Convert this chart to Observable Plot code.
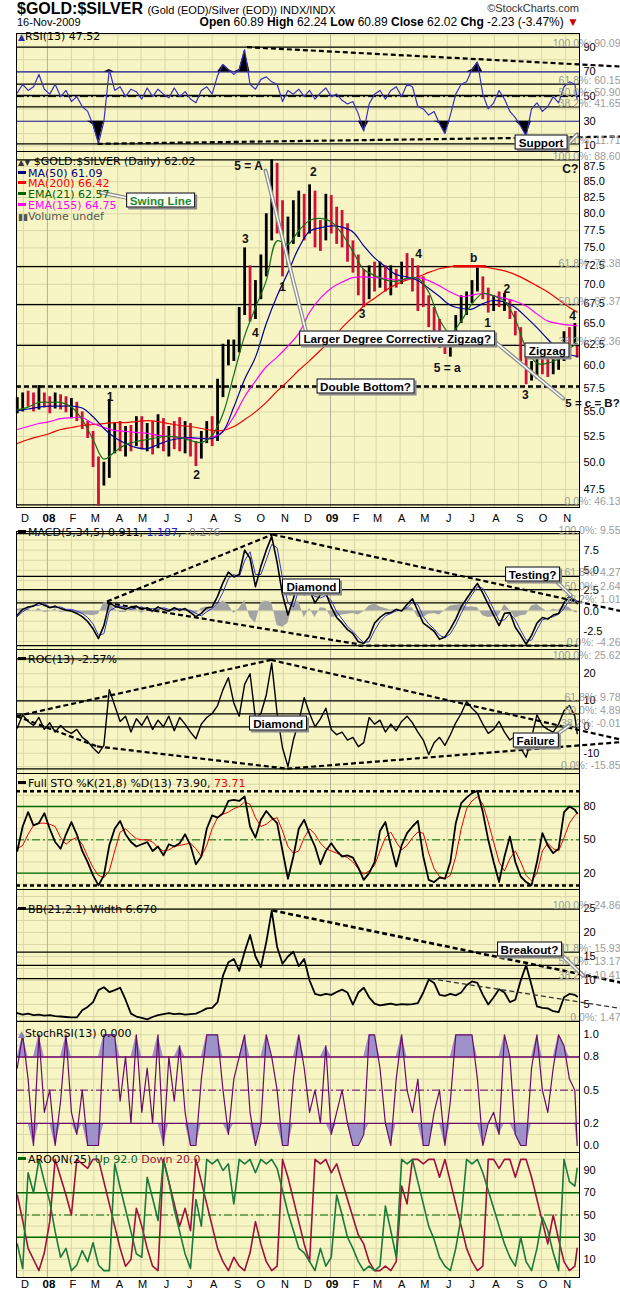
<!DOCTYPE html>
<html><head><meta charset="utf-8">
<script src="https://cdn.jsdelivr.net/npm/d3@7"></script>
<script src="https://cdn.jsdelivr.net/npm/@observablehq/plot@0.6"></script>
<style>
html,body{margin:0;padding:0;background:#fff;}
body{width:620px;height:1297px;overflow:hidden;font-family:"DejaVu Sans",sans-serif;}
#hdr{position:relative;height:33px;font-family:"Liberation Sans",Arial,sans-serif;color:#000;}
#hdr div{position:absolute;white-space:nowrap;}
.panel{position:relative;width:620px;}
.panel svg{display:block;}
.lab{position:absolute;left:18px;font:11px/10.7px "DejaVu Sans",sans-serif;white-space:nowrap;color:#000;}
.sw{display:inline-block;width:8px;height:3px;vertical-align:3px;margin-right:2px;}
.call{position:absolute;transform:translate(-50%,-50%);background:#fff;border:1px solid #000;box-shadow:2px 2px 0 #8a8a8a;font:bold 11.7px/13px "Liberation Sans",Arial,sans-serif;padding:0 3px;white-space:nowrap;color:#000;}
</style></head>
<body>
<div id="hdr">
  <div style="left:17px;top:0px"><span style="font:bold 16px 'Liberation Sans Narrow','Liberation Sans';font-stretch:condensed">$GOLD:$SILVER</span> <span style="font-size:11px">(Gold (EOD)/Silver (EOD)) INDX/INDX</span></div>
  <div style="right:41px;top:2px;font-size:11px;color:#333">©StockCharts.com</div>
  <div style="left:17px;top:16px;font-size:11px">16-Nov-2009</div>
  <div style="right:41px;top:15px;font-size:12px"><b>Open</b> 60.89 <b>High</b> 62.24 <b>Low</b> 60.89 <b>Close</b> 62.02 <b>Chg</b> -2.23 (-3.47%) <span style="color:#c00">▼</span></div>
</div>
<div id="charts"></div>
<script>
// ---------------- DATA (weekly samples) ----------------
const firstWeek = "2007-11-23";
const lastDay = "2009-11-16";
const monthLabels = ["D","08","F","M","A","M","J","J","A","S","O","N","D","09","F","M","A","M","J","J","A","S","O","N"];

const priceHigh = [56.5,57.0,57.2,57.0,57.8,57.0,56.6,57.0,56.8,56.6, 56.4,56.0,55.0,54.0,53.0,50.5,50.0,56.3,53.8,54.0, 53.5,53.6,54.5,54.5,53.8,54.0,54.7,54.3,53.5,54.0, 54.4,54.0,53.8,52.0,53.0,54.0,54.5,58.5,62.5,63.0, 63.0,67.0,75.0,72.5,70.5,74.0,80.0,88.6,88.0,82.0, 79.5,82.0,83.5,83.0,84.5,83.5,79.0,83.0,82.8,81.0, 80.5,78.5,76.0,74.0,72.0,72.5,73.0,73.0,72.5,72.5, 72.0,73.0,74.2,73.5,72.5,71.0,68.5,67.0,65.5,64.0, 63.5,66.0,68.5,69.0,70.5,72.2,71.0,69.5,68.5,69.0, 68.8,68.0,66.5,64.5,61.5,60.5,61.5,62.0,61.5,61.0, 61.5,64.0,64.5,65.0,62.24];
const priceLow = [54.8,55.0,55.5,55.0,55.2,55.4,54.8,55.3,55.2,54.9, 54.3,54.0,53.2,52.3,49.5,46.0,47.8,48.5,50.8,51.0, 50.5,51.0,51.5,51.2,51.0,50.7,51.3,51.0,50.5,51.2, 51.0,50.8,50.5,49.6,50.3,51.8,51.5,52.0,56.5,60.0, 60.5,61.5,66.0,65.2,65.5,68.0,71.0,76.0,77.0,71.0, 72.5,75.5,76.5,76.0,77.0,75.0,74.5,76.0,77.0,75.5, 75.0,73.0,71.5,68.5,67.0,68.0,69.0,69.5,69.0,68.5, 69.5,70.0,70.5,69.0,66.5,67.0,64.5,63.0,62.0,61.3, 61.0,62.5,65.0,66.0,67.5,69.0,68.0,66.3,66.5,67.0, 66.5,65.5,63.5,60.5,57.9,58.3,58.5,59.0,58.7,59.0, 59.5,60.5,61.5,62.5,60.89];
const priceClose = [55.5,56.3,56.0,55.6,56.8,55.8,55.3,56.4,55.9,55.4, 55.8,54.6,53.8,52.8,50.2,48.5,49.0,51.5,52.8,51.8, 52.2,51.5,53.8,52.0,52.5,51.2,53.5,52.0,52.8,52.5, 51.8,53.3,51.3,50.8,52.5,53.5,52.0,57.8,61.5,62.0, 62.3,66.0,72.0,67.0,68.5,72.5,78.5,84.0,80.0,74.0, 77.0,79.0,81.5,78.0,82.0,77.0,76.0,81.5,79.0,78.5, 77.5,74.0,73.0,70.0,68.5,71.5,70.0,72.0,70.0,71.5, 70.5,72.0,71.5,70.5,70.0,68.0,65.0,64.0,62.5,62.0, 63.0,65.5,67.5,68.0,70.0,71.0,69.0,67.0,68.0,67.5, 68.0,66.0,64.0,61.0,59.0,59.5,60.8,59.6,59.3,60.3, 61.0,63.5,63.0,64.2,62.02];

// moving averages, every second week
const ma50 = [55.1,55.3,55.5,55.6,55.6,55.6,55.4,54.5,53.3,52.4, 51.8,51.4,51.3,51.7,52.1,52.3,52.4,52.3,52.3,53.0, 55.5,58.5,61.0,65.0,68.5,71.6,75.0,77.4,77.9,78.2, 78.0,77.3,75.3,73.6,72.4,71.3,71.0,70.5,69.5,68.4, 67.3,66.9,66.8,67.5,67.9,67.7,67.0,65.8,64.5,63.1, 61.9,61.3,61.09];
const ma200 = [51.8,52.2,52.5,52.8,53.2,53.4,53.6,53.7,53.8,53.9, 53.9,54.0,54.1,54.0,53.8,53.6,53.5,53.3,53.1,53.1, 53.5,54.2,55.0,56.0,57.2,58.3,59.5,60.6,61.8,63.0, 64.5,65.8,67.2,68.2,69.2,70.0,70.6,71.0,71.6,72.1, 72.4,72.5,72.5,72.4,72.1,71.8,71.3,70.6,69.8,69.0, 68.0,67.0,66.42];
const ema21 = [55.2,55.5,56.0,56.0,56.0,55.5,54.2,52.2,50.3,51.0, 51.7,52.0,52.2,52.4,52.5,52.4,52.1,51.9,52.6,54.8, 59.0,63.5,67.0,70.5,76.0,75.5,77.5,79.0,79.3,78.8, 77.0,74.5,72.0,71.2,70.6,70.4,70.8,70.8,69.0,65.5, 63.8,65.3,67.5,68.8,68.5,67.8,65.5,62.0,60.3,60.3, 60.8,62.0,62.57];
const ema155 = [53.2,53.5,53.8,54.0,54.3,54.4,54.4,53.8,53.4,53.1, 53.0,52.9,52.8,52.6,52.5,52.4,52.3,52.3,52.4,53.0, 54.5,56.6,58.3,59.9,61.0,62.3,63.8,66.4,68.2,69.5, 70.3,70.9,71.0,70.9,70.8,70.6,70.7,70.9,70.5,69.8, 69.0,68.4,68.6,68.8,68.5,68.2,67.8,67.2,66.2,65.3, 65.0,64.8,64.75];

const rsi = [53,60,55,58,68,56,52,60,50,55, 46,50,42,38,27,12,30,72,55,58, 50,56,54,48,57,50,56,52,49,57, 50,54,48,45,55,58,52,67,76,72, 68,72,88,60,56,64,66,62,60,46, 55,52,56,50,55,48,53,57,50,52, 47,44,46,36,22,44,52,55,48,55, 58,50,60,58,42,40,35,38,28,20, 35,52,60,62,72,78,52,40,45,55, 48,38,33,26,18,40,45,38,42,50, 45,58,62,60,47.52];
const macd = [-0.5,0.2,0.5,0.6,1.0,0.7,0.4,0.6,0.3,0.1, 0.0,-0.3,-0.7,-1.3,-2.2,-3.4,-1.8,1.0,0.6,0.4, 0.2,0.5,0.6,0.2,0.4,0.0,0.5,0.2,0.0,0.4, 0.1,0.3,-0.2,-0.7,-0.3,0.4,0.5,1.8,3.5,4.8, 4.2,4.5,7.5,6.5,3.0,5.5,7.5,9.2,6.0,2.0, -0.5,1.5,3.8,2.0,2.5,1.0,2.0,2.2,0.5,-0.8, -1.5,-2.3,-2.8,-3.8,-4.0,-3.2,-1.5,-0.8,-0.3,-0.2, 0.2,0.0,0.8,1.5,0.0,-1.5,-2.0,-2.5,-3.5,-3.2, -2.2,-1.0,0.5,1.5,2.5,3.4,2.2,0.8,-0.5,-1.8, -0.3,-0.2,-2.0,-3.0,-4.1,-3.0,-1.5,-0.8,-1.0,-0.5, -0.3,1.0,1.8,1.3,0.911];
const macdSignal = [-0.7,-0.1,0.3,0.7,0.7,0.9,0.5,0.4,0.5,0.2, 0.2,0.0,-0.3,-0.8,-1.6,-3.0,-2.8,0.0,0.4,0.6, 0.4,0.2,0.4,0.5,0.2,0.3,0.2,0.4,0.2,0.1, 0.3,0.1,0.1,-0.3,-0.6,-0.1,0.3,1.0,2.3,4.0, 4.5,4.2,6.2,7.3,4.5,4.5,6.3,8.2,7.8,4.0, 1.0,0.5,2.6,2.8,2.2,1.8,1.6,1.9,1.3,-0.1, -1.0,-1.9,-2.5,-3.3,-3.9,-3.8,-2.4,-1.3,-0.6,-0.3, 0.0,0.1,0.4,1.1,0.8,-0.7,-1.6,-2.2,-3.0,-3.3, -2.8,-1.7,-0.3,1.0,2.0,3.0,2.8,1.6,0.2,-1.2, -1.1,-0.3,-1.1,-2.4,-3.6,-3.6,-2.3,-1.1,-0.9,-0.7, -0.4,0.3,1.4,1.5,1.187];
const macdHist = [0.2,0.3,0.2,-0.1,0.3,-0.2,-0.1,0.2,-0.2,-0.1, -0.2,-0.3,-0.4,-0.5,-0.6,-0.4,1.0,1.0,0.2,-0.2, -0.2,0.3,0.2,-0.3,0.2,-0.3,0.3,-0.2,-0.2,0.3, -0.2,0.2,-0.3,-0.4,0.3,0.5,0.2,0.8,1.2,0.8, -0.3,0.3,1.3,-0.8,-1.5,1.0,1.2,1.0,-1.8,-2.0, -1.5,1.0,1.2,-0.8,0.3,-0.8,0.4,0.3,-0.8,-0.7, -0.5,-0.4,-0.3,-0.5,-0.1,0.6,0.9,0.5,0.3,0.1, 0.2,-0.1,0.4,0.4,-0.8,-0.8,-0.4,-0.3,-0.5,0.1, 0.6,0.7,0.8,0.5,0.5,0.4,-0.6,-0.8,-0.7,-0.6, 0.8,0.1,-0.9,-0.6,-0.5,0.6,0.8,0.3,-0.1,0.2, 0.1,0.7,0.4,-0.2,-0.276];
const roc = [-0.5,4.5,2.0,0.5,3.5,-1.0,1.5,-2.0,0.5,-1.5, -2.5,-1.0,-4.0,-5.5,-8.0,-10.0,-7.0,14.0,8.0,2.0, 4.0,-2.0,3.0,0.5,4.0,-1.0,2.5,0.0,4.0,-1.5, 3.5,1.0,-2.0,-4.5,1.0,3.5,5.0,8.0,14.0,18.5, 9.0,4.0,16.0,20.0,3.0,5.0,12.0,24.0,5.0,-8.0, -15.0,-5.0,2.0,11.0,5.0,0.0,3.0,7.0,-1.0,-3.0, -2.0,-5.0,-4.0,-7.5,-6.0,3.5,1.0,2.5,-2.0,1.0, -1.5,2.0,4.0,1.5,-2.0,-5.0,-10.5,-6.0,-4.0,-7.0, -3.0,1.5,5.0,9.5,7.0,5.0,1.0,-2.5,-1.0,2.0, -2.0,-5.0,-3.5,-8.0,-11.5,-4.0,4.5,0.5,-1.0,-2.0, 1.0,6.0,8.0,4.0,-2.57];
const stoK = [40,62,75,63,65,74,60,48,42,55, 66,55,40,30,18,9,18,45,60,67, 55,48,44,46,48,40,44,36,46,44, 47,55,45,28,35,60,72,70,74,85, 86,85,89,62,52,68,76,70,65,40, 15,35,60,68,55,44,28,40,47,40, 35,36,34,25,14,20,30,58,66,45, 26,45,56,62,67,35,14,12,16,15, 30,65,83,88,92,94,75,50,30,12, 35,53,30,17,12,9,30,56,45,38, 42,75,80,77,73.90];
const stoD = [42,45,55,63,65,65,64,62,52,46, 50,52,46,35,25,18,16,22,40,57, 60,55,51,50,50,48,43,40,41,44, 45,46,47,42,35,45,60,70,73,75, 78,80,84,82,70,62,64,68,70,58, 44,38,40,52,60,55,47,42,40,38, 36,34,30,24,19,22,27,40,52,57, 48,41,45,52,57,56,38,24,17,15, 18,35,60,78,85,89,82,66,48,30, 22,33,40,30,18,13,20,40,47,42, 40,52,65,72,73.71];
const bbWidth = [3.2,2.9,3.1,2.8,2.9,2.7,2.8,2.6,2.5,2.4, 2.3,2.3,3.8,4.5,5.5,8.0,8.6,7.6,8.0,8.5, 6.0,3.1,2.5,2.2,1.9,2.4,2.8,3.0,3.2,3.0, 3.1,2.9,3.0,3.1,3.6,4.2,4.3,5.5,11.0,13.8, 14.5,12.0,16.0,19.5,15.0,12.8,18.0,24.5,17.0,13.5, 15.0,16.0,13.0,14.5,10.0,7.2,6.9,7.2,7.0,7.6, 8.1,7.5,5.0,7.5,8.5,6.5,5.2,4.8,5.0,5.2, 4.9,5.1,5.0,5.1,5.3,7.5,10.2,9.5,7.0,6.8, 7.2,6.9,7.5,9.0,9.8,9.5,7.0,5.0,6.5,8.2, 7.5,5.5,6.0,10.0,13.2,9.0,4.6,4.3,4.2,3.6, 3.4,6.5,7.2,7.0,6.67];
const stochRsi = [0.7,1.0,0.6,0.0,1.0,0.3,0.5,0.0,0.4,1.0, 0.3,0.1,0.5,0.0,0.0,0.0,1.0,1.0,1.0,0.4, 0.8,0.2,1.0,0.3,0.7,0.2,1.0,0.0,0.8,0.4, 0.9,0.3,0.0,0.0,0.6,1.0,1.0,1.0,0.5,0.1, 0.6,0.8,1.0,0.3,0.0,0.2,1.0,0.8,0.5,0.0, 0.0,0.6,1.0,0.7,0.3,0.5,0.2,0.9,0.1,0.3, 0.5,0.2,0.0,0.0,0.1,1.0,1.0,0.7,0.2,0.0, 0.6,1.0,0.5,0.3,0.6,0.0,0.0,0.3,0.5,0.0, 0.4,1.0,1.0,1.0,1.0,0.6,0.0,0.2,0.3,0.1, 1.0,0.8,0.1,0.0,0.0,0.7,1.0,0.5,0.3,0.7, 1.0,0.9,0.6,0.5,0.0];
const aroonUp = [24,2,88,70,100,80,62,35,12,20, 0,5,18,8,25,5,0,0,96,75, 55,35,15,12,84,65,45,100,80,55, 35,15,2,64,40,100,96,100,90,96, 60,100,96,100,88,100,96,100,92,72, 52,36,20,16,8,0,20,4,12,68, 50,30,20,8,0,4,0,4,58,36, 12,100,96,100,80,60,40,28,12,4, 0,20,48,100,96,100,88,72,56,40, 24,12,4,30,8,0,20,48,36,16, 0,100,80,76,92];
const aroonDown = [68,45,20,10,0,16,44,100,84,68, 50,100,96,92,100,100,80,60,40,20, 4,10,56,40,20,4,0,100,80,60, 40,56,36,100,80,60,40,20,8,0, 12,4,0,16,44,24,8,0,4,100, 84,64,44,24,8,100,96,100,88,96, 80,64,48,32,24,8,0,0,4,0, 8,76,60,100,100,96,100,100,84,100, 80,60,40,20,8,0,4,100,100,92, 100,100,84,100,100,84,64,44,24,50, 28,8,0,4,20];

// tick labels
const rsiTicks = [10,30,50,70,90];
const priceTicks = [47.5,50,52.5,55,57.5,60,62.5,65,67.5,70,72.5,75,77.5,80,82.5,85,87.5];
const macdTicks = [-2.5,0,2.5,5,7.5];
const rocTicks = [-10,0,10,20];
const stoTicks = [20,50,80];
const bbTicks = [5,10,15,20,25];
const srsiTicks = [0,0.2,0.5,0.8,1.0];
const aroonTicks = [10,30,50,70,90];

// Fibonacci retracement levels [label, value]
const rsiFibs = [["100.0%",90.09],["61.8%",60.15],["50.0%",50.90],["38.2%",41.65],["0.0%",11.71]];
const priceFibs = [["100.0%",88.60],["61.8%",72.38],["50.0%",67.37],["38.2%",62.36],["0.0%",46.13]];
const macdFibs = [["100.0%",9.55],["61.8%",4.27],["50.0%",2.64],["38.2%",1.01],["0.0%",-4.26]];
const rocFibs = [["100.0%",25.62],["61.8%",9.78],["50.0%",4.89],["38.2%",-0.01],["0.0%",-15.85]];
const bbFibs = [["100.0%",24.86],["61.8%",15.93],["50.0%",13.17],["38.2%",10.41],["0.0%",1.47]];

// annotations: trend lines [date1, value1, date2, value2]
const rsiTrends = [["2008-09-15",90.09,"2010-01-11",74.4],["2008-03-06",11.71,"2010-01-11",17.6]];
const macdTrends = [["2008-03-18",1.17,"2008-10-18",9.43],["2008-10-18",9.43,"2010-01-11",0.0],["2008-03-18",1.0,"2009-02-06",-4.1],["2009-02-06",-4.26,"2009-11-16",-4.26]];
const rocTrends = [["2007-11-22",4.0,"2008-10-16",25.2],["2008-10-16",25.2,"2010-01-11",-4.8],["2007-11-22",4.0,"2008-03-05",-7.4],["2008-03-05",-7.4,"2008-11-06",-15.8],["2008-11-06",-15.8,"2010-01-11",-5.8]];
const bbTrendMajor = [["2008-10-18",24.6,"2010-01-11",9.6]];
const bbTrendMinor = [["2009-05-10",10.4,"2010-01-11",4.2]];
const stoExtremes = [93.8, 8.9];
const doubleBottom = [57.7];
const bLine = [["2009-06-09",72.45,"2009-07-21",72.45]];

// wave labels [date, value, text]
const waveLabels = [["2008-09-17",87.5,"5 = A"],["2008-09-13",76.2,"3"],["2008-09-26",63.8,"4"],["2008-10-31",69.6,"1"],["2008-12-10",86.5,"2"],["2009-02-11",66.2,"3"],["2009-04-25",74.1,"4"],["2009-07-05",73.5,"b"],["2009-07-23",65.1,"1"],["2009-08-17",69.4,"2"],["2009-11-10",65.9,"4"],["2009-11-07",87.1,"C?"],["2008-07-12",48.8,"2"],["2008-03-22",56.6,"1"],["2009-09-10",56.8,"3"],["2009-06-01",59.7,"5 = a"]];
const waveLabelsRight = [["2010-01-10",55.9,"5 = c = B?"]];

// callouts [date, value, text, color]
const rsiCallouts = [["2009-10-01",12.8,"Support"]];
const mainCallouts = [["2008-05-27",82.1,"Swing Line","#1f8a1f"],["2009-03-29",63.2,"Larger Degree Corrective Zigzag?"],["2009-10-09",61.8,"Zigzag"],["2009-02-16",57.66,"Double Bottom?"]];
const macdCallouts = [["2008-12-08",2.99,"Diamond"],["2009-09-20",4.49,"Testing?"]];
const rocCallouts = [["2008-10-26",1.23,"Diamond"],["2009-09-24",-5.36,"Failure"]];
const bbCallouts = [["2009-09-16",16.56,"Breakout?"]];
// callout pointers [date1, value1, date2, value2]
const rsiPointers = [["2009-11-01",9.5,"2009-11-16",19.3]];
const mainPointers = [["2008-10-09",86.8,"2008-12-02",63.4],["2009-07-30",63.0,"2009-10-29",56.4],["2008-03-10",83.3,"2008-04-14",82.4]];
const macdPointers = [["2009-10-19",3.75,"2009-11-08",1.9]];
const rocPointers = [["2009-10-19",-3.29,"2009-11-06",0.48]];
const bbPointers = [["2009-10-25",15.6,"2009-11-24",11.0]];

// ---------------- BUILD ----------------
const D = s => new Date(s);
const dates = d3.range(104).map(i => d3.utcDay.offset(D(firstWeek), 7 * i)).concat([D(lastDay)]);
const maDates = dates.filter((d, i) => i % 2 === 0);
const X0 = D("2007-11-22"), X1 = D("2009-11-19");
const months = d3.utcMonth.range(D("2007-12-01"), D("2009-12-01"));
const BG = "#f7f5c4", GRID = "#dad8a8", YGRID = "#b4b296";
const series = arr => arr.map((v, i) => ({d: dates[i], v}));
const maSeries = arr => arr.map((v, i) => ({d: maDates[i], v}));
const step = (a, b, s) => d3.range(a, b + 1e-9, s);

const link = (arr, o) => Plot.link(arr, {x1: t => D(t[0]), y1: t => t[1], x2: t => D(t[2]), y2: t => t[3], ...o});
const dashed = arr => link(arr, {stroke: "#000", strokeWidth: 2.2, strokeDasharray: "5,3"});
const pointerMarks = arr => [link(arr, {stroke: "#8c8c8c", strokeWidth: 4, strokeLinecap: "round"}), link(arr, {stroke: "#fff", strokeWidth: 1.5})];

const charts = document.getElementById("charts");
function addPanel(cfg) {
  const wrap = document.createElement("div");
  wrap.className = "panel";
  const fibs = cfg.fibs || [];
  const marks = [
    Plot.frame({fill: BG}),
    Plot.ruleX(months.filter(d => d.getUTCMonth() !== 0), {stroke: GRID}),
    Plot.ruleY(cfg.grid, {stroke: GRID}),
    Plot.ruleX(months.filter(d => d.getUTCMonth() === 0), {stroke: YGRID}),
    Plot.ruleY(fibs, {y: f => f[1], stroke: "#000", strokeWidth: 1.3}),
    ...cfg.marks,
    Plot.text(fibs, {y: f => f[1], text: f => `${f[0]}: ${f[1].toFixed(2)}`, frameAnchor: "right", dx: 41, textAnchor: "end", lineAnchor: "bottom", dy: 0, fill: "#9a9a9a", fontSize: 10.5}),
    ...pointerMarks(cfg.pointers || []),
    Plot.frame({stroke: "#000"})
  ];
  if (cfg.xLabels) {
    marks.push(Plot.text(months.filter((d, i) => !/\d/.test(monthLabels[i])), {x: d => d3.utcDay.offset(d, 2), text: d => monthLabels[months.indexOf(d)], frameAnchor: "bottom", dy: cfg.xdy, fontSize: 11, fill: "#000"}));
    marks.push(Plot.text(months.filter((d, i) => /\d/.test(monthLabels[i])), {x: d => d3.utcDay.offset(d, 2), text: d => monthLabels[months.indexOf(d)], frameAnchor: "bottom", dy: cfg.xdy, fontSize: 11.5, fontWeight: "bold", fill: "#000"}));
  }
  const svg = Plot.plot({
    width: 620, height: cfg.height,
    marginLeft: 16, marginRight: 41, marginTop: 0, marginBottom: cfg.mb || 0,
    style: {background: "transparent", overflow: "visible", fontFamily: "Liberation Sans, Arial, sans-serif", fontSize: "11px", color: "#000"},
    color: {type: "identity"},
    x: {type: "utc", domain: [X0, X1], axis: null},
    y: {type: cfg.type || "linear", domain: cfg.domain, axis: "right", ticks: cfg.ticks, tickFormat: cfg.tickFormat, tickSize: 0, tickPadding: 4, label: null},
    marks
  });
  wrap.appendChild(svg);
  charts.appendChild(wrap);
  const lab = document.createElement("div");
  lab.className = "lab";
  lab.style.top = cfg.labelTop + "px";
  lab.innerHTML = cfg.label;
  wrap.appendChild(lab);
  const sx = svg.scale("x"), sy = svg.scale("y");
  for (const [d, v, text, color] of (cfg.callouts || [])) {
    const c = document.createElement("div");
    c.className = "call";
    c.style.left = sx.apply(D(d)) + "px";
    c.style.top = sy.apply(v) + "px";
    if (color) c.style.color = color;
    c.textContent = text;
    wrap.appendChild(c);
  }
}
const sw = c => `<i class="sw" style="background:${c}"></i>`;
const last = a => a[a.length - 1];

// RSI
const rsiData = series(rsi);
addPanel({
  height: 118, domain: [5.47, 101.2], ticks: rsiTicks, tickFormat: d => d,
  grid: step(10, 100, 10), fibs: rsiFibs, pointers: rsiPointers, callouts: rsiCallouts,
  labelTop: -1,
  label: `<span style="color:#2a2aa0;font-size:9px">▲</span>RSI(13) ${last(rsi)}`,
  marks: [
    Plot.ruleY([70, 30], {stroke: "#1c1c9c", strokeWidth: 1.2}),
    Plot.ruleY([50], {stroke: "#000", strokeDasharray: "8,3,2,3"}),
    Plot.areaY(rsiData, {x: "d", y1: 70, y2: r => Math.max(r.v, 70), fill: "#000"}),
    Plot.areaY(rsiData, {x: "d", y1: 30, y2: r => Math.min(r.v, 30), fill: "#000"}),
    Plot.line(rsiData, {x: "d", y: "v", stroke: "#3a30c0", strokeWidth: 1.2}),
    dashed(rsiTrends)
  ]
});

// PRICE
const bars = dates.map((d, i) => ({d, h: priceHigh[i], l: priceLow[i], c: priceClose[i], up: i === 0 || priceClose[i] >= priceClose[i - 1]}));
const ml = (arr, color, w = 1.2) => Plot.line(maSeries(arr), {x: "d", y: "v", stroke: color, strokeWidth: w, curve: "catmull-rom"});
addPanel({
  height: 380, mb: 24, type: "log", domain: [45.9, 90.0], ticks: priceTicks, tickFormat: d => d.toFixed(1),
  grid: priceTicks, fibs: priceFibs, pointers: mainPointers, callouts: mainCallouts,
  xLabels: true, xdy: 14,
  labelTop: 6,
  label: `<div><span style="font-size:8px;color:#333">▲▼</span> $GOLD:$SILVER (Daily) ${last(priceClose)}</div>` +
    `<div>${sw("#000080")}<span style="color:#000080">MA(50) ${last(ma50)}</span></div>` +
    `<div>${sw("#f00")}<span style="color:#f00">MA(200) ${last(ma200)}</span></div>` +
    `<div>${sw("#006400")}<span style="color:#006400">EMA(21) ${last(ema21)}</span></div>` +
    `<div>${sw("#f0f")}<span style="color:#f0f">EMA(155) ${last(ema155)}</span></div>` +
    `<div style="color:#555"><span style="font-size:9px">▮▮</span>Volume undef</div>`,
  marks: [
    Plot.ruleY(doubleBottom, {stroke: "#000", strokeWidth: 2.5, strokeDasharray: "5,3"}),
    Plot.ruleX(bars, {x: "d", y1: "l", y2: "h", stroke: b => b.up ? "#000" : "#d0103a", strokeWidth: 2.8}),
    ml(ma200, "#ee0000"),
    ml(ema155, "#ff00ff"),
    ml(ma50, "#00009a"),
    ml(ema21, "#137013"),
    link(bLine, {stroke: "#ee0000", strokeWidth: 2.5}),
    Plot.text(waveLabels, {x: w => D(w[0]), y: w => w[1], text: w => w[2], fontWeight: "bold", fontSize: 12, fill: "#111"}),
    Plot.text(waveLabelsRight, {x: w => D(w[0]), y: w => w[1], text: w => w[2], fontWeight: "bold", fontSize: 11.5, fill: "#111", textAnchor: "end"})
  ]
});

// MACD
const macdRows = dates.map((d, i) => ({d, m: macd[i], s: macdSignal[i], h: macdHist[i]}));
addPanel({
  height: 118, domain: [-4.75, 9.80], ticks: macdTicks, tickFormat: d => d.toFixed(1),
  grid: step(-3.75, 9.5, 1.25), fibs: macdFibs, pointers: macdPointers, callouts: macdCallouts,
  labelTop: -3,
  label: `${sw("#000")}MACD(5,34,5) ${last(macd)}, <span style="color:#2222cc">${last(macdSignal)}</span>, <span style="color:#888">${last(macdHist)}</span>`,
  marks: [
    Plot.areaY(macdRows, {x: "d", y1: 0, y2: "h", fill: "#a4a4a4"}),
    Plot.line(macdRows, {x: "d", y: "s", stroke: "#3333cc", strokeWidth: 1}),
    Plot.line(macdRows, {x: "d", y: "m", stroke: "#000", strokeWidth: 1.6}),
    dashed(macdTrends)
  ]
});

// ROC
addPanel({
  height: 124, domain: [-17.62, 29.13], ticks: rocTicks, tickFormat: d => d,
  grid: step(-15, 25, 5), fibs: rocFibs, pointers: rocPointers, callouts: rocCallouts,
  labelTop: 6,
  label: `${sw("#000")}ROC(13) ${last(roc)}%`,
  marks: [
    Plot.line(series(roc), {x: "d", y: "v", stroke: "#000", strokeWidth: 1.4}),
    dashed(rocTrends)
  ]
});

// FULL STO
const stoRows = dates.map((d, i) => ({d, k: stoK[i], dd: stoD[i]}));
addPanel({
  height: 116, domain: [5.3, 109.7], ticks: stoTicks, tickFormat: d => d,
  grid: step(10, 100, 10),
  labelTop: 6,
  label: `${sw("#000")}Full STO %K(21,8) %D(13) ${last(stoK).toFixed(2)}, <span style="color:#e00">${last(stoD)}</span>`,
  marks: [
    Plot.ruleY([80, 20], {stroke: "#006a00", strokeWidth: 1.3}),
    Plot.ruleY([50], {stroke: "#006a00", strokeDasharray: "8,3,2,3"}),
    Plot.ruleY(stoExtremes, {stroke: "#000", strokeWidth: 2.5, strokeDasharray: "4,3"}),
    Plot.line(stoRows, {x: "d", y: "dd", stroke: "#ee0000", strokeWidth: 1}),
    Plot.line(stoRows, {x: "d", y: "k", stroke: "#000", strokeWidth: 1.8})
  ]
});

// BB width
addPanel({
  height: 132, domain: [1.46, 28.96], ticks: bbTicks, tickFormat: d => d,
  grid: step(2.5, 27.5, 2.5), fibs: bbFibs, pointers: bbPointers, callouts: bbCallouts,
  labelTop: 16,
  label: `${sw("#000")}BB(21,2.1) Width ${last(bbWidth).toFixed(3)}`,
  marks: [
    Plot.line(series(bbWidth), {x: "d", y: "v", stroke: "#000", strokeWidth: 1.8}),
    link(bbTrendMajor, {stroke: "#000", strokeWidth: 2.6, strokeDasharray: "5,3"}),
    link(bbTrendMinor, {stroke: "#333", strokeWidth: 1.3, strokeDasharray: "5,3"})
  ]
});

// StochRSI
const srsiData = series(stochRsi);
addPanel({
  height: 131, domain: [-0.063, 1.12], ticks: srsiTicks, tickFormat: d => d.toFixed(1),
  grid: step(0.1, 1.0, 0.1),
  labelTop: 8,
  label: `<span style="color:#8a7fc0;font-size:9px">▲</span>StochRSI(13) ${last(stochRsi).toFixed(3)}`,
  marks: [
    Plot.areaY(srsiData, {x: "d", y1: 0.8, y2: r => Math.max(r.v, 0.8), fill: "#9c92c9"}),
    Plot.areaY(srsiData, {x: "d", y1: 0.2, y2: r => Math.min(r.v, 0.2), fill: "#9c92c9"}),
    Plot.ruleY([0.8, 0.2], {stroke: "#6a006a", strokeWidth: 1.4}),
    Plot.ruleY([0.5], {stroke: "#6a006a", strokeDasharray: "8,3,2,3"}),
    Plot.line(srsiData, {x: "d", y: "v", stroke: "#6a0a6a", strokeWidth: 1.2})
  ]
});

// AROON
const aroonRows = dates.map((d, i) => ({d, u: aroonUp[i], w: aroonDown[i]}));
addPanel({
  height: 145, mb: 20, domain: [-6.2, 106.2], ticks: aroonTicks, tickFormat: d => d,
  grid: step(0, 100, 10),
  xLabels: true, xdy: 10,
  labelTop: 3,
  label: `<i class="sw" style="background:#006a00"></i>AROON(25) <span style="color:#006a2a">Up ${last(aroonUp).toFixed(1)}</span> <span style="color:#a0103a">Down ${last(aroonDown).toFixed(1)}</span>`,
  marks: [
    Plot.ruleY([70, 30], {stroke: "#006a00", strokeWidth: 1.4}),
    Plot.ruleY([50], {stroke: "#006a00", strokeDasharray: "8,3,2,3"}),
    Plot.line(aroonRows, {x: "d", y: "w", stroke: "#a0103a", strokeWidth: 1.6}),
    Plot.line(aroonRows, {x: "d", y: "u", stroke: "#1b7a3a", strokeWidth: 1.6})
  ]
});
</script>
</body></html>
